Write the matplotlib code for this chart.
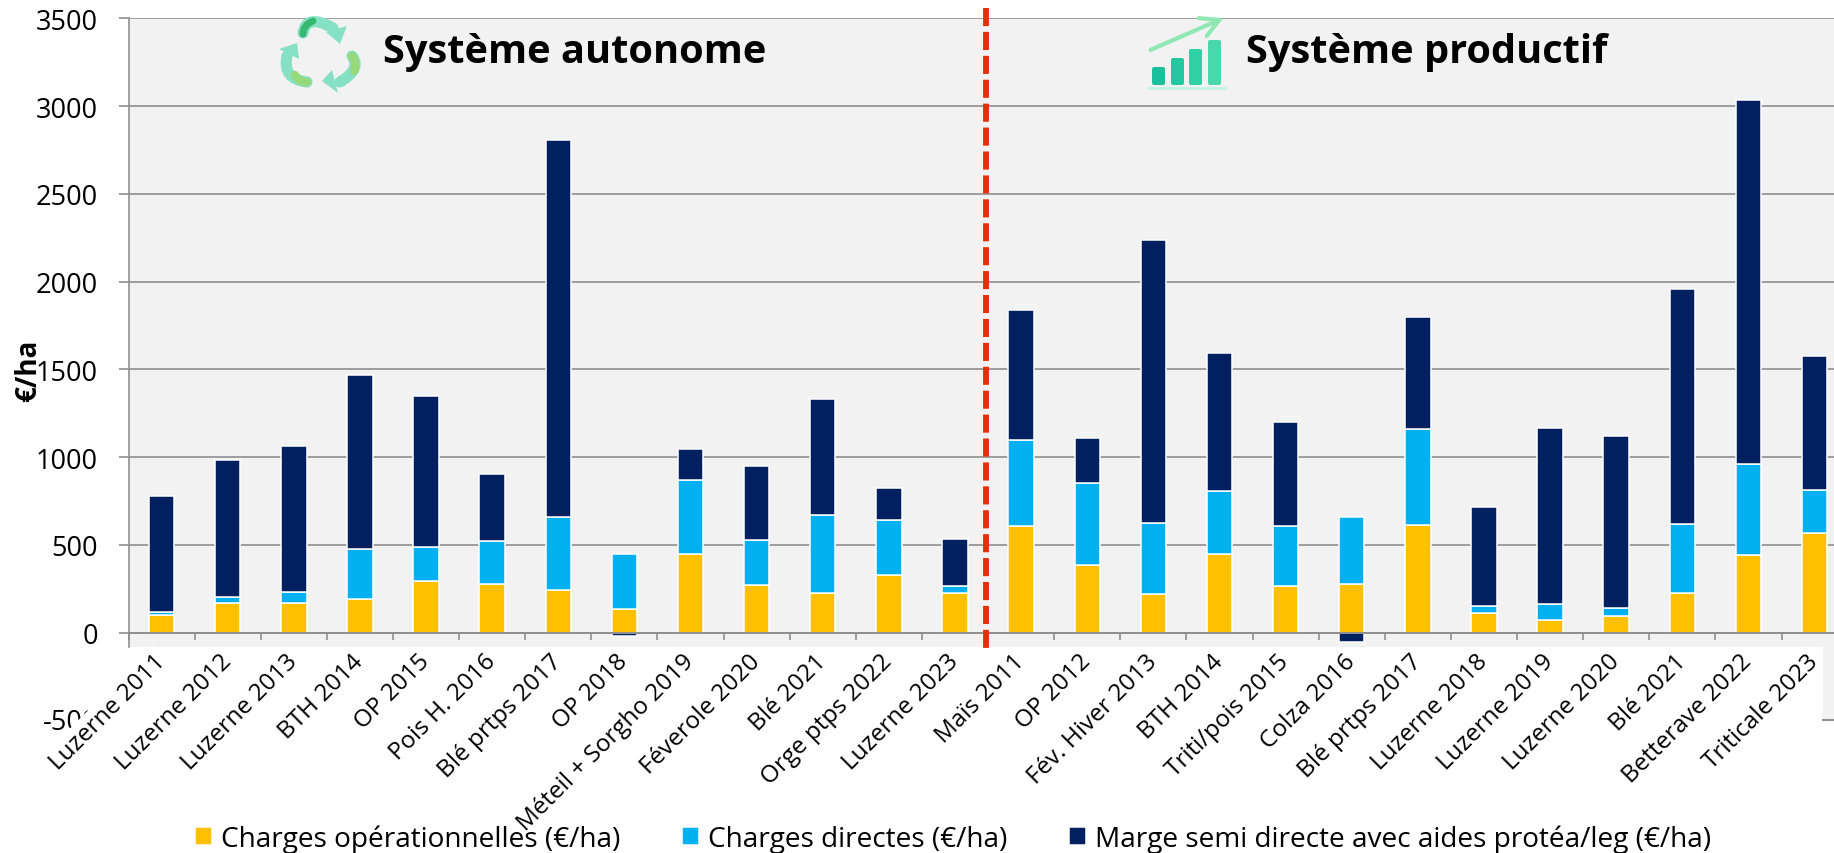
import numpy as np
import matplotlib
matplotlib.use("Agg")
import matplotlib.pyplot as plt
from matplotlib.patches import Rectangle, FancyArrowPatch, FancyBboxPatch, PathPatch, Polygon
from matplotlib.path import Path

plt.rcParams['font.family'] = ['Open Sans', 'DejaVu Sans']

W, H = 1834, 854

labels = ["Luzerne 2011", "Luzerne 2012", "Luzerne 2013", "BTH 2014", "OP 2015", "Pois H. 2016",
          "Blé prtps 2017", "OP 2018", "Méteil + Sorgho 2019", "Féverole 2020", "Blé 2021",
          "Orge ptps 2022", "Luzerne 2023", "Maïs 2011", "OP 2012", "Fév. Hiver 2013", "BTH 2014",
          "Triti/pois 2015", "Colza 2016", "Blé prtps 2017", "Luzerne 2018", "Luzerne 2019",
          "Luzerne 2020", "Blé 2021", "Betterave 2022", "Triticale 2023"]
charges_oper = np.array([102, 167, 171, 190, 292, 275, 241, 137, 446, 269, 227, 327, 227,
                         610, 385, 218, 446, 265, 279, 615, 110, 73, 96, 224, 440, 566])
charges_dir = np.array([17, 35, 58, 289, 197, 245, 417, 313, 424, 256, 441, 314, 37,
                        485, 468, 405, 360, 343, 380, 545, 41, 88, 46, 395, 520, 244])
marge = np.array([662, 783, 837, 987, 858, 381, 2150, -19, 177, 422, 662, 181, 271,
                  741, 256, 1615, 789, 593, -51, 641, 567, 1005, 979, 1337, 2074, 765])
yticks = [0, 500, 1000, 1500, 2000, 2500, 3000, 3500]

c_grid = "#8f8f8f"
c_bg = "#f2f2f2"

fig = plt.figure(figsize=(W / 100, H / 100), dpi=100)
ax = fig.add_axes([128.5 / W, 1 - 648 / H, 1 - 128.5 / W, (648 - 19.3) / H])
ax.set_facecolor(c_bg)
ax.set_axisbelow(True)
ax.set_zorder(1)

ax.spines["top"].set_visible(False)
ax.spines["right"].set_visible(False)
ax.spines["bottom"].set_position(("data", 0))
ax.spines["bottom"].set_color(c_grid)
ax.spines["bottom"].set_linewidth(1.4)
ax.spines["left"].set_color(c_grid)
ax.spines["left"].set_linewidth(1.2)

x = np.arange(len(labels))
bar_kw = dict(width=0.385, edgecolor="white", linewidth=1.1)
ax.bar(x, charges_oper, color="#FFC000", label="Charges opérationnelles (€/ha)", **bar_kw)
ax.bar(x, charges_dir, bottom=charges_oper, color="#00B0F0", label="Charges directes (€/ha)", **bar_kw)
ax.bar(x, marge, bottom=np.where(marge > 0, charges_oper + charges_dir, 0), color="#002060",
       label="Marge semi directe avec aides protéa/leg (€/ha)", **bar_kw)

ax.set_yticks(yticks)
ax.yaxis.grid(True, color=c_grid, lw=1.2)
ax.tick_params(axis="y", length=7, width=1.2, color=c_grid, labelsize=19.5, pad=15)

ax.set_xticks(x)
ax.set_xticks(np.arange(len(labels) + 1) - 0.5, minor=True)
ax.set_xticklabels(labels, rotation=45, ha="right", va="center", rotation_mode="anchor", fontsize=17.5)
ax.tick_params(axis="x", which="major", length=0, pad=18)
ax.tick_params(axis="x", which="minor", length=5, width=1.2, color=c_grid)
ax.set_ylim(-82, 3500)
ax.set_xlim(-0.5, (W - 128.5) / 66.12 - 0.5)

# the -500 label is half hidden behind the first category label in the original
fig.text(98 / W, 1 - 723 / H, "-500", ha="right", va="center", fontsize=19.5, zorder=-1)
ax.get_xticklabels()[0].set_bbox(dict(facecolor="white", edgecolor="none", pad=2))

fig.text(29 / W, 1 - 371 / H, "€/ha", rotation=90, ha="center", va="center", fontsize=20, fontweight="bold")

fig.legend(loc="center", bbox_to_anchor=(953 / W, 1 - 840 / H), ncol=3, frameon=False, fontsize=20.15,
           handlelength=0.6, handleheight=0.6, handletextpad=0.33, columnspacing=2.2)

# overlay in pixel coordinates for the annotations
ov = fig.add_axes([0, 0, 1, 1], zorder=5)
ov.set_xlim(0, W)
ov.set_ylim(H, 0)
ov.axis("off")

ov.add_patch(Rectangle((1823, 648), 11, 73, color=c_bg, lw=0))
ov.plot([1823, 1834], [721, 721], color=c_grid, lw=1.4)
ov.plot([985.5, 985.5], [9, 652], color="#E3300A", lw=4.2, dashes=(3.1, 1.0), dash_capstyle="butt")

ov.text(383, 53, "Système autonome", fontsize=28.6, fontweight="bold", va="center", ha="left", color="black")
ov.text(1246, 53, "Système productif", fontsize=28.6, fontweight="bold", va="center", ha="left", color="black")


def curve(p0, p1, p2, col, lw):
    path = Path([p0, p1, p2], [Path.MOVETO, Path.CURVE3, Path.CURVE3])
    ov.add_patch(PathPatch(path, fill=False, edgecolor=col, lw=lw, capstyle="round"))


# recycle icon
teal = "#86e0c4"
curve((303, 34), (306, 14), (333, 29), teal, 8)
curve((352, 57), (362, 70), (340, 83), teal, 8)
curve((307, 83), (282, 80), (287, 57), teal, 8)
ov.add_patch(Polygon([(326, 33), (347, 27), (340, 45)], color=teal, lw=0))
ov.add_patch(Polygon([(332, 71), (322, 82), (338, 94)], color=teal, lw=0))
ov.add_patch(Polygon([(279, 50), (297, 44), (299, 60)], color=teal, lw=0))
curve((303, 35), (303, 26), (313, 22), "#35b872", 5)
curve((352, 57), (358, 64), (354, 72), "#96d97a", 6)
curve((307, 83), (300, 84), (295, 76), "#96d97a", 6)

# growth icon
ix = [1152, 1171, 1189, 1208]
itop = [68, 59, 50, 41]
icol = ["#1cbf9c", "#24c8a0", "#30d0a6", "#48d8ac"]
for px, top, col in zip(ix, itop, icol):
    ov.add_patch(FancyBboxPatch((px, top), 13, 86 - top, boxstyle="round,pad=0,rounding_size=2", color=col, lw=0))
ov.plot([1149, 1225], [89, 89], color="#c3f5e6", lw=2)
ov.add_patch(FancyArrowPatch((1148, 52), (1226, 18), mutation_scale=1, color="#8fe8b4", lw=3,
                             arrowstyle="->,head_length=13,head_width=7"))

fig.savefig("out.png", dpi=100)
